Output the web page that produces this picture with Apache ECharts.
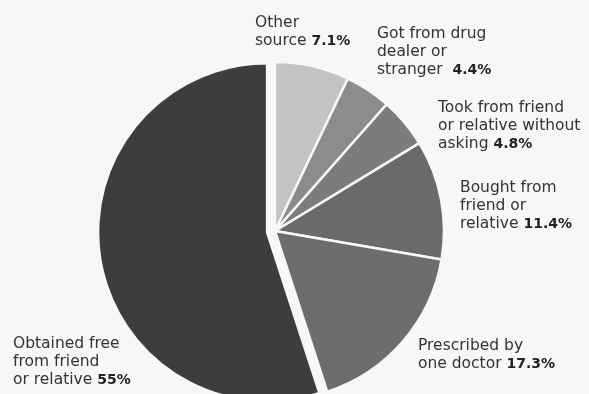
<!DOCTYPE html>
<html>
<head>
<meta charset="utf-8">
<script src="https://cdn.jsdelivr.net/npm/echarts@6/dist/echarts.min.js"></script>
<style>
html,body{margin:0;padding:0;background:#f7f7f5;}
#chart{width:589px;height:394px;}
</style>
</head>
<body>
<div id="chart"></div>
<script>
// Data
const categories = [
  'Other source',
  'Got from drug dealer or stranger',
  'Took from friend or relative without asking',
  'Bought from friend or relative',
  'Prescribed by one doctor',
  'Obtained free from friend or relative'
];
const values = [7.1, 4.4, 4.8, 11.4, 17.3, 55];
const labelTexts = [
  'Other\nsource',
  'Got from drug\ndealer or\nstranger ',
  'Took from friend\nor relative without\nasking',
  'Bought from\nfriend or\nrelative',
  'Prescribed by\none doctor',
  'Obtained free\nfrom friend\nor relative'
];
const percentLabels = ['7.1%', '4.4%', '4.8%', '11.4%', '17.3%', '55%'];

// Styles
const sliceColors = ['#c3c3c1', '#8c8c8a', '#7c7c7a', '#6a6a68', '#6d6d6b', '#3d3d3d'];
const labelPos = [
  [255, 14],
  [377, 25],
  [438, 99],
  [460, 179],
  [418, 337],
  [13, 335]
];
const pieCenter = [275, 231];
const pieRadius = 169;

const chart = echarts.init(document.getElementById('chart'), null, {renderer: 'canvas'});
chart.setOption({
  backgroundColor: '#f7f7f5',
  animation: false,
  series: [{
    // the slices
    type: 'pie',
    center: pieCenter,
    radius: pieRadius,
    startAngle: 90,
    clockwise: true,
    selectedMode: 'single',
    selectedOffset: 8,
    emphasis: {disabled: true},
    itemStyle: {borderColor: '#f7f7f5', borderWidth: 2.5},
    label: {show: false},
    labelLine: {show: false},
    data: categories.map(function (c, i) {
      return {
        name: c,
        value: values[i],
        selected: i === values.length - 1,
        itemStyle: {color: sliceColors[i]}
      };
    })
  }, {
    // the labels, on an invisible copy of the pie
    type: 'pie',
    center: pieCenter,
    radius: pieRadius,
    startAngle: 90,
    clockwise: true,
    silent: true,
    z: 3,
    emphasis: {disabled: true},
    itemStyle: {color: 'rgba(0,0,0,0)', borderWidth: 0},
    labelLine: {show: false},
    label: {
      show: true,
      position: 'inside',
      align: 'left',
      fontFamily: 'DejaVu Sans',
      fontSize: 15.5,
      lineHeight: 18,
      color: '#333333',
      formatter: function (p) {
        const i = p.dataIndex;
        const lines = labelTexts[i].split('\n');
        return lines.map(function (l, k) {
          if (k === lines.length - 1) return '{n|' + l + '} {b|' + percentLabels[i] + '}';
          return '{n|' + l + '}';
        }).join('\n');
      },
      rich: {
        n: {fontFamily: 'DejaVu Sans', fontSize: 15.5, lineHeight: 18, color: '#333333', align: 'left'},
        b: {fontFamily: 'DejaVu Sans', fontSize: 14, lineHeight: 18, color: '#222222', fontWeight: 'bold', align: 'left'}
      }
    },
    labelLayout: function (params) {
      const pos = labelPos[params.dataIndex];
      return {x: pos[0], y: pos[1], align: 'left', verticalAlign: 'top'};
    },
    data: categories.map(function (c, i) {
      return {name: c, value: values[i]};
    })
  }]
});
</script>
</body>
</html>
